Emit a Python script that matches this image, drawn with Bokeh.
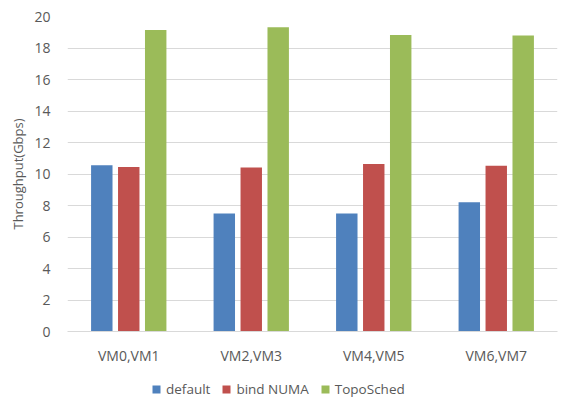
from bokeh.plotting import figure
from bokeh.models import ColumnDataSource, FactorRange, Legend, LegendItem, Title
from bokeh.layouts import column
from bokeh.transform import dodge
from bokeh.embed import file_html
from bokeh.resources import INLINE

categories = ["VM0,VM1", "VM2,VM3", "VM4,VM5", "VM6,VM7"]
series_names = ["default", "bind NUMA", "TopoSched"]
default_vals = [10.55, 7.5, 7.5, 8.2]
bind_numa_vals = [10.45, 10.42, 10.63, 10.53]
toposched_vals = [19.15, 19.32, 18.82, 18.8]
y_ticks = [0, 2, 4, 6, 8, 10, 12, 14, 16, 18, 20]
colors = ["#4F81BD", "#C0504D", "#9BBB59"]

source = ColumnDataSource(dict(cat=categories, d=default_vals, b=bind_numa_vals, t=toposched_vals))

FONT = "Open Sans"
GREY = "#595959"
keys = ["d", "b", "t"]
offsets = [-0.22, 0.0, 0.22]

p = figure(x_range=FactorRange(factors=categories), y_range=(0, 20),
           width=576, height=372, output_backend="svg", toolbar_location=None,
           min_border_left=67, min_border_right=19, min_border_top=16, min_border_bottom=41)

for key, off, col in zip(keys, offsets, colors):
    p.vbar(x=dodge("cat", off, range=p.x_range), top=key, width=0.175, source=source,
           fill_color=col, line_color=None)

p.outline_line_color = None
p.background_fill_color = "white"
p.xgrid.grid_line_color = None
p.ygrid.grid_line_color = "#D9D9D9"
p.ygrid.grid_line_width = 1
p.yaxis.ticker = y_ticks
p.yaxis.axis_line_color = None
p.yaxis.major_tick_line_color = None
p.yaxis.minor_tick_line_color = None
p.xaxis.axis_line_color = "#D9D9D9"
p.xaxis.major_tick_line_color = None
p.xaxis.minor_tick_line_color = None
for ax in (p.xaxis, p.yaxis):
    ax.major_label_text_font = FONT
    ax.major_label_text_font_size = "14px"
    ax.major_label_text_color = GREY
p.yaxis.major_label_standoff = 11
p.xaxis.major_label_standoff = 8

ytitle = Title(text="Throughput(Gbps)", align="center", offset=15, standoff=10,
               text_font=FONT, text_font_style="normal", text_font_size="13px",
               text_color=GREY)
p.add_layout(ytitle, "left")

# legend strip below the chart (its bars lie outside its visible y range)
p2 = figure(x_range=p.x_range, y_range=(100, 101), width=576, height=28,
            output_backend="svg", toolbar_location=None,
            min_border_left=0, min_border_right=0, min_border_top=0, min_border_bottom=0)
p2.axis.visible = False
p2.grid.grid_line_color = None
p2.outline_line_color = None
leg_renderers = []
for key, off, col in zip(keys, offsets, colors):
    r = p2.vbar(x=dodge("cat", off, range=p.x_range), top=key, width=0.175, source=source,
                fill_color=col, line_color=None)
    leg_renderers.append(r)

legend = Legend(items=[LegendItem(label=n, renderers=[r]) for n, r in zip(series_names, leg_renderers)],
                orientation="horizontal", location=(84, 2),
                label_text_font=FONT, label_text_font_size="13.5px", label_text_color=GREY,
                glyph_width=10, glyph_height=10, spacing=11, label_standoff=5,
                border_line_color=None, background_fill_alpha=0, margin=0, padding=4)
p2.add_layout(legend, "center")

layout = column(p, p2, spacing=0)
open("out.html", "w").write(file_html(layout, INLINE))
